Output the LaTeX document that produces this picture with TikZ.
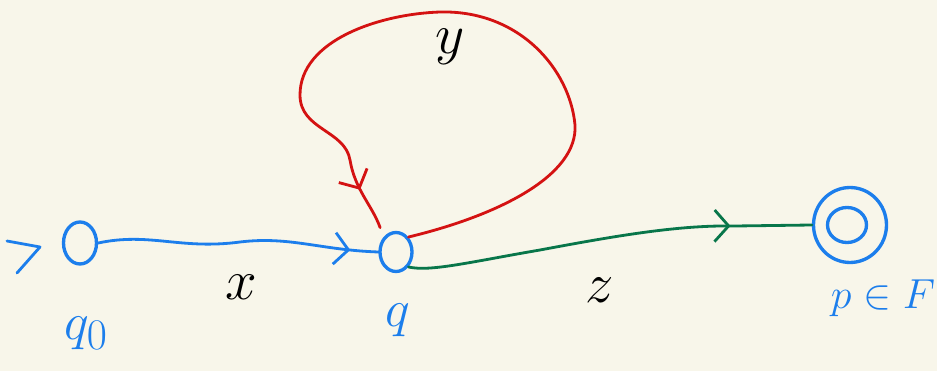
\documentclass[tikz,border=0pt]{standalone}
\usepackage{amsmath,amssymb}
\usepackage{tikz}
\usetikzlibrary{arrows.meta,calc,shapes.geometric,decorations.markings}
\definecolor{figpaper}{RGB}{248,246,234}
\definecolor{figblue}{RGB}{28,126,236}
\definecolor{figred}{RGB}{212,18,18}
\definecolor{figgreen}{RGB}{8,118,74}
\tikzset{
  stnode/.style ={ellipse,draw=figblue,line width=1.9pt,inner sep=0pt},
  fgline/.style ={line width=1.6pt,line cap=round,line join=round},
  midarr/.style ={postaction={decorate},decoration={markings,
      mark=at position #1 with {\arrow{Straight Barb[length=8pt,width=18pt]}}}},
  bedge/.style  ={fgline,figblue},
  redge/.style  ={fgline,figred},
  gedge/.style  ={fgline,figgreen},
  blab/.style   ={text=figblue,font=\Huge,scale=1.2},
  klab/.style   ={text=black,font=\Huge,scale=1.3},
}
\begin{document}
\begin{tikzpicture}[x=0.02cm,y=-0.02cm]
  \fill[figpaper] (0,0) rectangle (937,371);
  \useasboundingbox (0,0) rectangle (937,371);
  % states
  \node[stnode,minimum width=0.66cm,minimum height=0.84cm] (q0) at (80,243) {};
  \node[stnode,minimum width=0.64cm,minimum height=0.78cm] (q) at (396,252) {};
  \node[stnode,minimum width=1.46cm,minimum height=1.50cm] (p) at (850,225) {};
  \node[stnode,minimum width=0.78cm,minimum height=0.70cm] (pin) at (847,225) {};
  \coordinate (init) at (40,247);
  % state labels
  \node[blab] (lq0) at (86,333) {$q_0$};
  \node[blab] (lq) at (398,320) {$q$};
  \node[blab,scale=0.8] (lp) at (883,298) {$p\in F$};
  % initial mark
  \draw[bedge] ($(init)+(-33,-6)$) -- (init) -- ($(init)+(-23,26)$);
  % x
  \draw[bedge,midarr=0.9] (q0.east) .. controls (150,232) and (180,250) .. (240,242)
    .. controls (290,236) and (320,250) .. (q.west);
  \node[klab] (lx) at (241,287) {$x$};
  % y loop
  \draw[redge,midarr=0.93,shorten >=0.2cm] (q.north east) .. controls (500,215) and (578,175) .. (575,125)
    .. controls (570,70) and (520,10) .. (440,12)
    .. controls (380,14) and (300,40) .. (300,95)
    .. controls (300,130) and (345,130) .. (350,160)
    .. controls (355,190) and (372,205) .. (q.north west);
  \node[klab] (ly) at (450,47) {$y$};
  % z
  \draw[gedge,midarr=0.8] (q.south east) .. controls (430,272) and (470,262) .. (540,250)
    .. controls (620,235) and (680,225) .. (735,226) -- (p.west);
  \node[klab] (lz) at (600,290) {$z$};
\end{tikzpicture}
\end{document}
